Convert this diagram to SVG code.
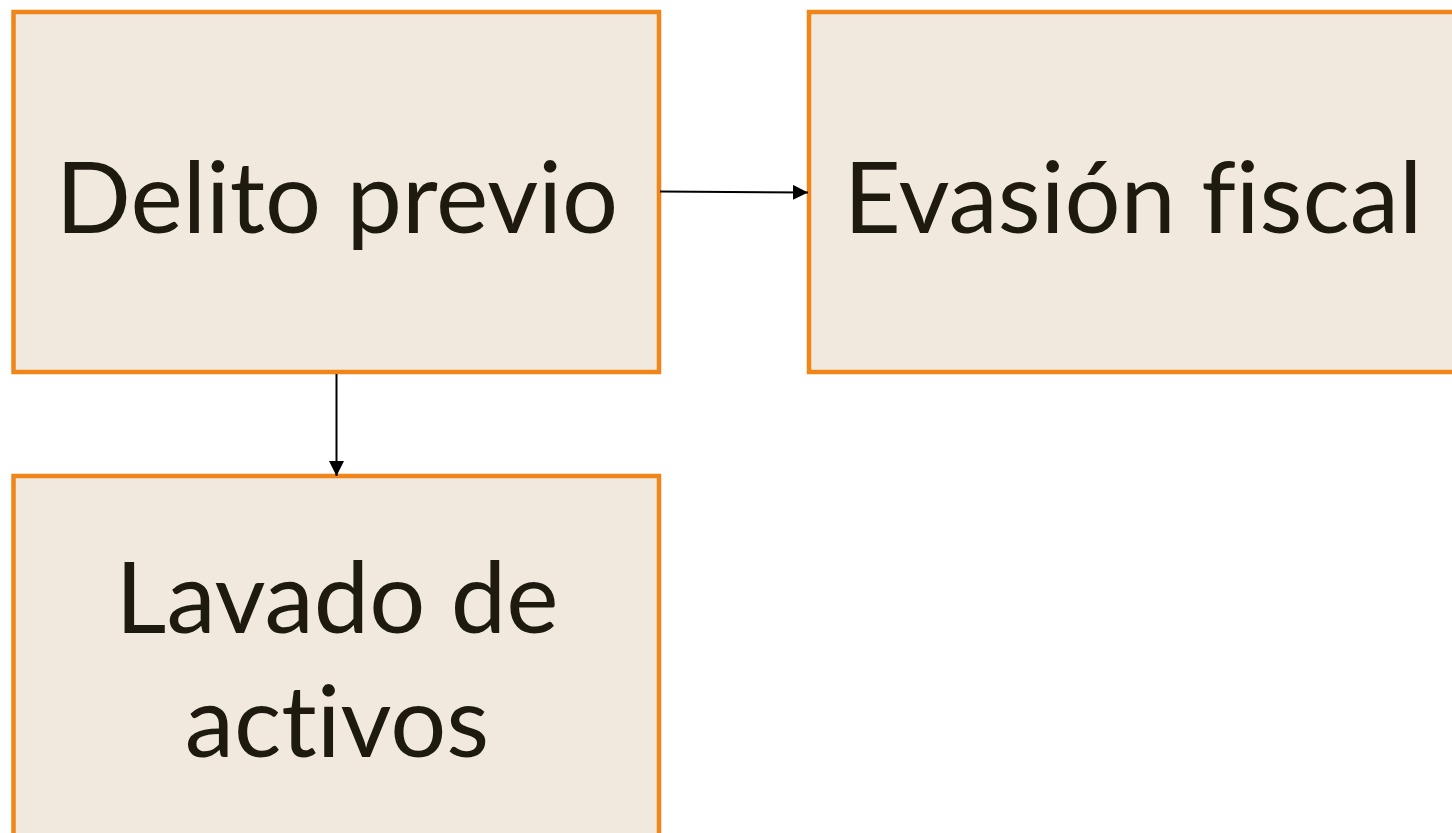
<svg xmlns="http://www.w3.org/2000/svg" width="1452" height="833" viewBox="0 0 1452 833">
<style>
.box{fill:#F1E9DD;stroke:#F08519;stroke-width:4.5}
.lbl{font-family:Lato,"Open Sans","Liberation Sans",sans-serif;font-size:99px;fill:#1F1A10;text-anchor:middle;font-variant-ligatures:none;font-feature-settings:"liga" 0,"clig" 0}
.conn{stroke:#000;stroke-width:2;fill:none}
</style>
<defs>
<marker id="ah" viewBox="0 0 10 10" refX="10" refY="5" markerWidth="15" markerHeight="15" markerUnits="userSpaceOnUse" orient="auto">
<path d="M0,0 L10,5 L0,10 Z" fill="#000"/>
</marker>
</defs>
<rect width="1452" height="833" fill="#fff"/>
<g id="delito-previo">
<rect class="box" x="13.5" y="12" width="645.5" height="360"/>
<text class="lbl" x="337" y="233">Delito previo</text>
</g>
<g id="evasion-fiscal">
<rect class="box" x="809" y="12" width="660" height="360"/>
<text class="lbl" x="1133" y="233">Evasión fiscal</text>
</g>
<g id="lavado-activos">
<rect class="box" x="13.5" y="476" width="645.5" height="380"/>
<text class="lbl" x="337" y="633">Lavado de</text>
<text class="lbl" x="337" y="757">activos</text>
</g>
<g id="connectors">
<line class="conn" x1="660" y1="191.5" x2="808" y2="192.5" marker-end="url(#ah)"/>
<line class="conn" x1="336.5" y1="374" x2="336.5" y2="476" marker-end="url(#ah)"/>
</g>
</svg>
